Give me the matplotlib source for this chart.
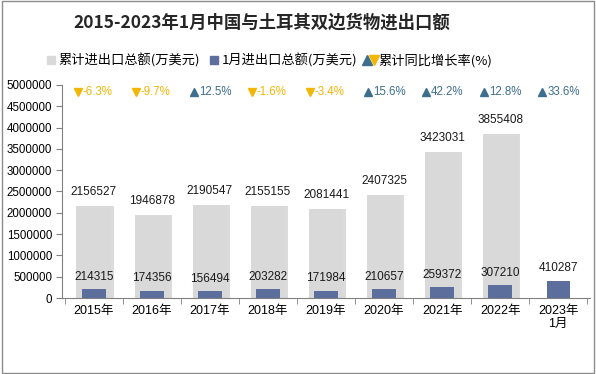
import numpy as np
import matplotlib.pyplot as plt
from matplotlib.lines import Line2D
from matplotlib.legend_handler import HandlerTuple
from matplotlib.patches import Rectangle

plt.rcParams['font.family'] = ['Liberation Sans', 'Noto Sans CJK SC', 'DejaVu Sans']

# data
kategori = ['2015年', '2016年', '2017年', '2018年', '2019年', '2020年', '2021年', '2022年', '2023年\n1月']
kumulatif = [2156527, 1946878, 2190547, 2155155, 2081441, 2407325, 3423031, 3855408, np.nan]
januari = [214315, 174356, 156494, 203282, 171984, 210657, 259372, 307210, 410287]
pertumbuhan = [-6.3, -9.7, 12.5, -1.6, -3.4, 15.6, 42.2, 12.8, 33.6]

abu = '#d9d9d9'
biru = '#5b6e9c'
naik = '#3e6e8e'
turun = '#f2b705'

fig = plt.figure(figsize=(5.96, 3.74), dpi=100)
fig.patches.append(Rectangle((0.003, 0.003), 0.994, 0.994, transform=fig.transFigure,
                             fill=False, edgecolor='#8c8c8c', linewidth=1.0))
ax = fig.add_axes([0.104, 0.203, 0.886, 0.570])

x = np.arange(len(kategori))
# bayangan batang abu-abu
ax.bar(x + 0.05, kumulatif, width=0.6, color='#b0b0b0', alpha=0.45, zorder=1)
ax.bar(x, kumulatif, width=0.6, color=abu, zorder=2)
ax.bar(x, januari, width=0.4, color=biru, zorder=3)

for i in range(len(kategori)):
    if not np.isnan(kumulatif[i]):
        ax.text(x[i], kumulatif[i] + 330000, f'{kumulatif[i]:.0f}', ha='center', va='center',
                fontsize=8.5, color='#1a1a1a')
    ax.text(x[i], januari[i] + 290000, f'{januari[i]}', ha='center', va='center',
            fontsize=8.5, color='#1a1a1a')
    g = pertumbuhan[i]
    if g >= 0:
        mk, warna = '^', naik
    else:
        mk, warna = 'v', turun
    ax.plot(x[i] - 0.28, 4830000, marker=mk, color=warna, markersize=5.5, linestyle='none',
            clip_on=False)
    ax.text(x[i] - 0.19, 4830000, f'{g:.1f}%', ha='left', va='center', fontsize=8.3, color=warna)

ax.set_xlim(-0.55, len(kategori) - 0.45)
ax.set_ylim(0, 5000000)
ax.set_yticks(np.arange(0, 5000001, 500000))
ax.set_yticklabels([f'{v}' for v in range(0, 5000001, 500000)], fontsize=8.3)
ax.set_xticks(x)
ax.set_xticklabels(kategori, fontsize=9, linespacing=1.1)
ax.set_xticks(np.arange(-0.5, len(kategori), 1), minor=True)
ax.tick_params(axis='x', which='major', length=0, pad=5)
ax.tick_params(axis='x', which='minor', length=4, color='#808080')
ax.tick_params(axis='y', length=4, color='#808080', pad=3)
for s in ['top', 'right']:
    ax.spines[s].set_visible(False)
for s in ['left', 'bottom']:
    ax.spines[s].set_color('#808080')

fig.text(0.44, 0.94, '2015-2023年1月中国与土耳其双边货物进出口额', ha='center', va='center',
         fontsize=12.5, fontweight='bold', family=['Noto Sans CJK SC'], color='#262626')

handles = [Line2D([], [], marker='s', linestyle='none', color=abu, markersize=5.5),
           Line2D([], [], marker='s', linestyle='none', color=biru, markersize=5.5),
           (Line2D([], [], marker='^', linestyle='none', color=naik, markersize=6.5),
            Line2D([], [], marker='v', linestyle='none', color=turun, markersize=6.5))]
labels = ['累计进出口总额(万美元)', '1月进出口总额(万美元)', '累计同比增长率(%)']
fig.legend(handles, labels, loc='center', bbox_to_anchor=(0.45, 0.838), ncol=3, frameon=False,
           handlelength=1.0, handletextpad=0.1, columnspacing=0.5,
           handler_map={tuple: HandlerTuple(ndivide=None, pad=0.0)},
           prop={'family': ['Noto Sans CJK SC'], 'size': 9.5})

fig.savefig('out.png', dpi=100)
